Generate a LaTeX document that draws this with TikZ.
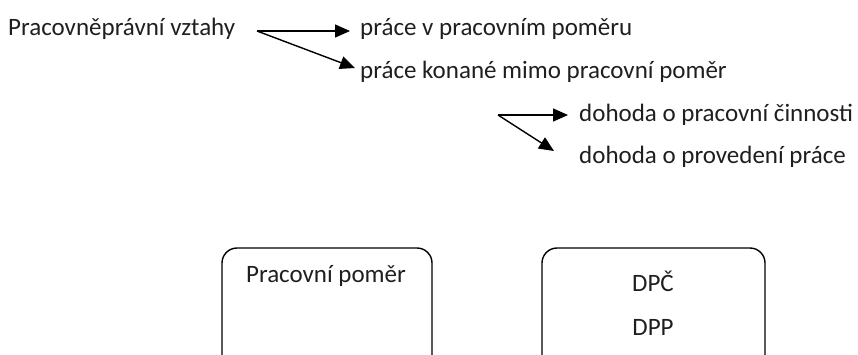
\documentclass[tikz,border=0pt]{standalone}
\usepackage{fontspec}
\setmainfont{Carlito}
\usetikzlibrary{arrows.meta}
\begin{document}
\begin{tikzpicture}[x=1pt,y=-1pt,
  lbl/.style={anchor=west,inner sep=0pt,text=black!88,font=\fontsize{25}{30}\selectfont},
  ctr/.style={anchor=center,inner sep=0pt,text=black!88,font=\fontsize{25}{30}\selectfont},
  arr/.style={line width=1.4pt,-{Triangle[length=15pt,width=13pt]}},
  boxst/.style={line width=1.4pt,rounded corners=15pt}]
\useasboundingbox (0,0) rectangle (858,354);
\clip (0,0) rectangle (858,354);
\node[lbl] (pv) at (8,29) {Pracovněprávní vztahy};
\node[lbl] (ppp) at (360,29) {práce v pracovním poměru};
\node[lbl] (pkm) at (360,72) {práce konané mimo pracovní poměr};
\node[lbl] (dpc) at (579,115) {dohoda o pracovní činnosti};
\node[lbl] (dpp) at (579,157) {dohoda o provedení práce};
\coordinate (s1) at (257,31);
\coordinate (e1) at (350,31);
\coordinate (e2) at (355,68);
\coordinate (s2) at (498,115);
\coordinate (e3) at (568,115);
\coordinate (e4) at (554,151);
\draw[arr] (s1) -- (e1);
\draw[arr] (s1) -- (e2);
\draw[arr] (s2) -- (e3);
\draw[arr] (s2) -- (e4);
\draw[boxst] (222,380) |- (432,248) -- (432,380);
\draw[boxst] (542,380) |- (765,248) -- (765,380);
\node[ctr] (pp) at (326,276) {Pracovní poměr};
\node[ctr] (bdpc) at (653,281) {DPČ};
\node[ctr] (bdpp) at (653,327) {DPP};
\end{tikzpicture}
\end{document}
